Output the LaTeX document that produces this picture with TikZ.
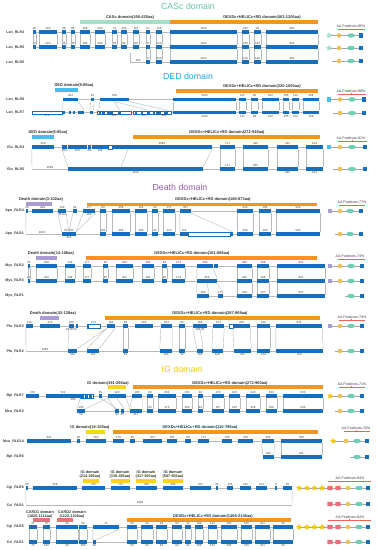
\documentclass[tikz,border=0pt]{standalone}
\usepackage{fontspec}
\setmainfont{Liberation Sans}
\usetikzlibrary{shapes.geometric,backgrounds}
\definecolor{exblue}{RGB}{22,110,190}
\definecolor{dorange}{RGB}{247,148,30}
\definecolor{cascT}{RGB}{100,195,160}
\definecolor{cascB}{RGB}{165,222,198}
\definecolor{dedT}{RGB}{30,165,230}
\definecolor{dedB}{RGB}{70,190,238}
\definecolor{deathT}{RGB}{150,90,175}
\definecolor{deathB}{RGB}{170,155,210}
\definecolor{igT}{RGB}{245,200,0}
\definecolor{igB}{RGB}{250,215,20}
\definecolor{cardB}{RGB}{235,110,125}
\definecolor{icyel}{RGB}{235,195,90}
\definecolor{icteal}{RGB}{110,205,180}
\definecolor{gline}{RGB}{185,185,185}
\definecolor{brk}{RGB}{235,100,80}
\definecolor{numc}{RGB}{60,60,60}
\tikzset{
 exon/.style={rectangle, fill=exblue, inner sep=0pt, minimum height=3.9pt},
 hollow/.style={rectangle, draw=exblue, fill=white, line width=0.4pt, inner sep=0pt, minimum height=3.4pt},
 num/.style={font=\fontsize{2.9}{3}\selectfont, text=numc, inner sep=0.35pt},
 rlab/.style={font=\fontsize{3.6}{4}\selectfont\bfseries, text=numc, anchor=east, inner sep=0pt},
 dlab/.style={font=\fontsize{4}{4.6}\selectfont\bfseries, text=black!80, inner sep=0pt},
 dbar/.style={rectangle, inner sep=0pt, minimum height=3.1pt},
 title/.style={font=\fontsize{8.8}{10}\selectfont, inner sep=0pt},
 intron/.style={draw=gline, line width=0.45pt},
 cn/.style={draw=gline, line width=0.4pt},
 icl/.style={draw=gray!70, line width=0.45pt},
 yc/.style={circle, fill=icyel, minimum size=4.6pt, inner sep=0pt},
 te/.style={ellipse, fill=icteal, minimum width=7.6pt, minimum height=4.4pt, inner sep=0pt},
 bs/.style={rectangle, fill=exblue, minimum size=4.6pt, inner sep=0pt},
 ps/.style={rectangle, fill=deathB, minimum size=4.6pt, inner sep=0pt},
 cs/.style={rectangle, fill=dedB, minimum size=4.6pt, inner sep=0pt},
 pk/.style={rectangle, rounded corners=0.6pt, fill=cardB, minimum width=5.4pt, minimum height=4.4pt, inner sep=0pt},
 stg/.style={star, star points=5, star point ratio=2.3, fill=igT, minimum size=6.6pt, inner sep=0pt},
 stm/.style={star, star points=5, star point ratio=2.3, fill=cascB, minimum size=6.6pt, inner sep=0pt},
 aal/.style={font=\fontsize{3.6}{4}\selectfont, text=numc, inner sep=0pt},
 brkl/.style={draw=brk, line width=0.45pt},
}
\newcommand\exrow[3]{\foreach \i/\a/\b/\l/\p in {#3}{%
 \node[exon, minimum width={(\b-\a)*1pt}] (#1\i) at ({(\a+\b)/2},#2) {};
 \if\p a\node[num, anchor=south] at (#1\i.north) {\l};\else\node[num, anchor=north] at (#1\i.south) {\l};\fi}}
\newcommand\hol[6]{\node[hollow, minimum width={(#3-#2)*1pt}] (#1) at ({(#2+#3)/2},#4) {};
 \if#6a\node[num,anchor=south] at (#1.north) {#5};\else\node[num,anchor=north] at (#1.south) {#5};\fi}
\newcommand\conn[3]{\foreach \i in {#3}{\draw[cn] (#1\i.south west) -- (#2\i.north west) (#1\i.south east) -- (#2\i.north east);}}
\newcommand\intr[2]{\begin{pgfonlayer}{background}\draw[intron] (#1) -- (#2);\end{pgfonlayer}}
\newcommand\icons[4]{\foreach \x/\s [count=\k] in {#3}{\node[\s] (#1\k) at (\x,#2) {};}
 \begin{pgfonlayer}{background}\draw[icl] (#11.center) -- (#1#4.center);\end{pgfonlayer}}
\newcommand\aap[6]{\node[aal] (#1) at (#2,#3) {AA Positives-#4\%};
 \draw[brkl] (#5,#3+3.8) -- (#5,#3+2.8) -- (#6,#3+2.8) -- (#6,#3+3.8) ({(#5+#6)/2},#3+2.8) -- ({(#5+#6)/2},#3+2);}
\newcommand\dbar[5]{\node[dbar, fill=#5, minimum width={(#3-#2)*1pt}] (#1) at ({(#2+#3)/2},#4) {};}
\begin{document}
\begin{tikzpicture}[x=1pt,y=-1pt]
\useasboundingbox (0,0) rectangle (377,550);
\begin{pgfonlayer}{background}\fill[white] (0,0) rectangle (377,550);\end{pgfonlayer}
% ================= CASc
\node[title, text=cascT] (t1) at (188,6.5) {CASc domain};
\node[dlab] (dl1a) at (130,17.3) {CASc domain(166-420aa)};
\dbar{b1a}{80}{170}{22}{cascB}
\node[dlab] (dl1b) at (262,17.3) {DEXDc+HELICc+RD domain(463-1206aa)};
\dbar{b1b}{170}{318}{22}{dorange}
\node[rlab] (rl1) at (24.5,32) {Lan\_RLR4};
\node[rlab] (rl2) at (24.5,47) {Lan\_RLR6};
\node[rlab] (rl3) at (24.5,62) {Lan\_RLR5};
\exrow{a}{32}{1/33/36/40/a,2/39/57/320/a,3/62/66/38/a,4/71/75/80/a,5/80/90/106/a,6/95/105/220/a,7/112/117/78/a,8/121/127/120/a,9/133/139/110/a,10/146/150/87/a,11/156/162/120/a,12/170/237/1120/a,13/242/249/120/a,14/254/261/111/a,15/266/318/863/a}
\intr{a1.west}{a15.east}
\exrow{b}{47}{1/33/36/36/a,2/39/57/320/a,3/62/66/36/a,4/71/75/80/a,5/80/90/106/a,6/95/105/220/a,7/112/117/78/a,8/121/127/96/a,9/133/139/110/a,10/146/150/87/a,11/156/162/123/a,12/170/237/1142/a,13/242/249/120/a,14/254/261/120/a,15/266/318/854/a}
\intr{b1.west}{b15.east}
\conn{a}{b}{1,...,15}
\exrow{c}{62}{10/146/150/87/a,11/156/162/123/a,12/170/237/1126/a,13/242/249/110/a,14/254/261/120/a,15/266/318/854/a}
\coordinate (c0) at (130,62);
\coordinate (c0t) at (130,53);
\intr{c0}{c15.east}
\draw[cn] (c0t) -- (c0);
\node[num,anchor=south] (c0l) at (138,61.6) {163};
\conn{b}{c}{10,...,15}
\aap{aa1}{351}{26.5}{85}{338}{364}
\icons{ica}{35.5}{329/stm,339/yc,351/te,361/bs}{4}
\icons{icb}{48}{329/stm,339/yc,351/te,361/bs}{4}
\icons{icc}{61}{332/coordinate,339/yc,351/te,361/bs}{4}
% ================= DED
\node[title, text=dedT] (t2) at (188,76) {DED domain};
\node[dlab] (dl2a) at (74,85) {DED domain(9-89aa)};
\dbar{b2a}{55}{78}{90}{dedB}
\node[dlab] (dl2b) at (262,86.3) {DEXDc+HELICc+RD domain(320-1005aa)};
\dbar{b2b}{176}{318}{91}{dorange}
\node[rlab] (rl4) at (24.5,99.5) {Lan\_RLR8};
\node[rlab] (rl5) at (24.5,112.5) {Lan\_RLR7};
\exrow{d}{99.5}{1/63/78/291/a,2/91/94/45/a,3/100/129/520/a,4/173/236/1135/a,5/239/246/117/a,6/251/258/98/a,7/262/279/182/a,8/283/289/105/a,9/292/299/114/a,10/303/319/206/a}
\intr{d1.west}{d10.east}
\hol{eh1}{32}{62}{112.5}{374}{b}
\hol{eh2}{97}{131}{112.5}{282}{b}
\hol{eh3}{133}{156}{112.5}{207}{b}
\hol{eh4}{157}{171}{112.5}{202}{b}
\exrow{e}{112.5}{1/63/65//a,2/69/71//a,3/73/75//a,4/78/84//a,5/90/93//a,6/99/101//a,7/102/105//a,8/107/113//a,9/118/121//a,10/135/137//a,11/141/143//a,12/147/150//a,13/153/155//a,14/158/161//a,15/164/168//a}
\exrow{e}{112.5}{16/173/236/1136/b,17/239/246/117/b,18/251/258/98/b,19/262/279/182/b,20/283/289/105/b,21/292/299/114/b,22/303/319/206/b}
\intr{eh1.west}{e22.east}
\foreach \i/\j in {4/16,5/17,6/18,7/19,8/20,9/21,10/22}{\draw[cn] (d\i.south west) -- (e\j.north west) (d\i.south east) -- (e\j.north east);}
\draw[cn] (d1.south west) -- (e1.north west) (d1.south east) -- (e4.north east) (d2.south west) -- (e5.north west) (d2.south east) -- (e5.north east) (d3.south west) -- (e6.north west) (d3.south) -- (e9.north) (d3.south) -- (e12.north) (d3.south east) -- (e15.north east);
\aap{aa2}{351}{91}{98}{338}{365}
\icons{icd}{99.5}{329/cs,340/yc,352/te,364/bs}{4}
\icons{ice}{113}{333/coordinate,340/yc,352/te,364/bs}{4}
% Elu
\node[dlab] (dl3a) at (48,132) {DED domain(6-85aa)};
\dbar{b3a}{32}{54}{137}{dedB}
\node[dlab] (dl3b) at (227,132) {DEXDc+HELICc+RD domain(272-948aa)};
\dbar{b3b}{133}{320}{137}{dorange}
\node[rlab] (rl6) at (24.5,147) {Elu\_RLR3};
\node[rlab] (rl7) at (24.5,169) {Elu\_RLR5};
\hol{fh}{108}{112}{147}{}{a}
\exrow{f}{147}{1/32/54/259/a,2/62/67/302/b,3/67.6/87/228/b,4/88/91/59/b,5/92/108/138/b,6/112/212/1083/a,7/220/235/171/a,8/243/268/290/a,9/277/298/232/a,10/306/323/194/a}
\intr{f1.west}{f10.east}
\coordinate (g0) at (32,169);
\exrow{g}{169}{1/68/203/1519/b,7/220/235/171/a,8/243/268/305/a,9/277/298/235/b,10/306/323/194/b}
\intr{g0}{g10.east}
\node[num,anchor=south] (g0l) at (50,168.6) {1509};
\conn{f}{g}{7,8,9,10}
\coordinate (f6a) at (128,148.8);
\coordinate (g1a) at (121,167.2);
\draw[cn] (f1.south west) -- (g0) (f2.south west) -- (g1.north west) (f6a) -- (g1a) (f6.south east) -- (g1.north east);
\aap{aa3}{351}{138}{81}{338}{366}
\icons{icf}{147}{329/cs,340/yc,352/te,365/bs}{4}
\icons{icg}{169}{333/coordinate,340/yc,352/te,365/bs}{4}
% ================= Death
\node[title, text=deathT] (t3) at (180,187.5) {Death domain};
\node[dlab] (dl4a) at (41,199) {Death domain(3-102aa)};
\dbar{b4a}{26}{52}{204}{deathB}
\node[dlab] (dl4b) at (213,199) {DEXDc+HELICc+RD domain(186-873aa)};
\dbar{b4b}{87}{317}{204.5}{dorange}
\node[rlab] (rl8) at (24,211) {Apu\_RLR4};
\node[rlab] (rl9) at (24,234) {Apu\_RLR1};
\exrow{h}{211}{1/26/28/28/a,2/32/53/288/a,3/58/66/120/a,4/73/77/84/a,5/83/95/177/a,6/100/106/83/a,7/112/130/258/a,8/135/147/163/a,9/152/158/93/a,10/163/175/173/a,11/180/191/351/a,12/237/253/240/a,13/259/271/168/a,14/276/320/528/a}
\node[num,anchor=north] (h3l) at (h3.south) {36\,\,84};
\node[num,anchor=north] (h5l) at (h5.south) {180};
\intr{h1.west}{h14.east}
\coordinate (i0) at (26,234);
\hol{hI}{188}{230}{234}{}{a}
\exrow{i}{234}{3/62/76/214/b,6/100/106/201/a,7/112/130/258/a,8/135/147/163/a,9/152/158/93/a,10/163/175/173/a,11/180/188/724/a,12/237/253/240/a,13/259/271/168/a,14/276/320/528/a,15/230/232.5//a}
\node[num,anchor=south] (i3l) at (i3.north) {56\,\,201};
\intr{i0}{i14.east}
\node[num,anchor=south] (i0l) at (42,233.6) {2210};
\conn{h}{i}{6,7,8,9,10,12,13,14}
\draw[cn] (h1.south west) -- (i0) (h3.south west) -- (i3.north west) (h3.south east) -- (i3.north) (h4.south west) -- (i3.north) (h5.south west) -- (i3.north east) (h5.south east) -- (i3.north east) (h11.south west) -- (i11.north west) (h11.south east) -- (i15.north east);
\aap{aa4}{352}{202.5}{77}{339}{364}
\icons{ich}{211}{330/ps,340/yc,350/te,361/bs}{4}
\icons{ici}{234}{335/coordinate,340/yc,350/te,361/bs}{4}
% Mys
\node[dlab] (dl5a) at (51,253.5) {Death domain(14-108aa)};
\dbar{b5a}{36}{57}{258}{deathB}
\node[dlab] (dl5b) at (192,253.5) {DEXDc+HELICc+RD domain(161-886aa)};
\dbar{b5b}{86}{317}{258}{dorange}
\node[rlab] (rl10) at (24,266) {Mys\_RLR2};
\node[rlab] (rl11) at (24,281) {Mys\_RLR3};
\node[rlab] (rl12) at (24,296) {Mys\_RLR1};
\exrow{j}{266}{1/28/29.6/25/a,2/36/57/288/a,3/65/75/138/a,4/83/91/177/a,5/103/108/83/a,6/116/133/249/a,7/142/154/163/a,8/162/167/93/a,9/172/185/173/a,10/197/213/280/a,11/237/252/240/a,12/257/269/168/a,13/277/325/641/a,14/214/218//a}
\intr{j1.west}{j13.east}
\exrow{k}{281}{1/28/29.6/21/a,2/36/57/291/a,3/65/75/138/a,4/83/91/177/a,5/103/108/83/a,6/116/133/252/a,7/142/154/163/a,8/162/167/93/a,9/172/185/173/a,10/197/217/269/a,11/237/252/240/a,12/257/269/168/a,13/277/325/641/a}
\intr{k1.west}{k13.east}
\conn{j}{k}{1,...,13}
\exrow{l}{296}{10/197/209/100/a,14/218/223/177/a,11/237/252/228/a,12/257/269/157/a,13/277/325/607/a}
\intr{l10.west}{l13.east}
\conn{k}{l}{11,12,13}
\draw[cn] (k10.south west) -- (l10.north west) (k10.south) -- (l10.north east) (k10.south east) -- (l14.north east);
\aap{aa5}{350}{256.5}{74}{338}{364}
\icons{icj}{266}{330/ps,340/yc,351/te,362/bs}{4}
\icons{ick}{281}{330/ps,340/yc,351/te,362/bs}{4}
\icons{icl}{296}{345/coordinate,351/te,362/bs}{3}
% Pfu
\node[dlab] (dl6a) at (53,313) {Death domain(43-129aa)};
\dbar{b6a}{40}{59}{318}{deathB}
\node[dlab] (dl6b) at (210,313) {DEXDc+HELICc+RD domain(287-968aa)};
\dbar{b6b}{105}{320}{318}{dorange}
\node[rlab] (rl13) at (24,326) {Pfu\_RLR3};
\node[rlab] (rl14) at (24,351) {Pfu\_RLR2};
\hol{mh1}{87}{100}{326}{174}{a}
\hol{mh2}{229}{233}{326}{}{a}
\exrow{m}{326}{1/26/33/115/a,2/40/60/276/a,3/69/74/180/a,15/75.5/78//a,4/87/89//a,5/107/115/182/a,6/123/128/83/a,7/135/153/255/a,8/161/172/163/a,9/179/185/95/a,10/193/207/168/a,11/213/224/141/a,12/233/250/288/a,13/257/270/168/a,14/276/322/611/a}
\node[num,anchor=north] (m3l) at (m3.south) {65\,30\,54};
\node[num,anchor=north] (m10l) at (m10.south) {104\,\,64};
\intr{m1.west}{m14.east}
\coordinate (n0) at (26,351);
\exrow{n}{351}{3/68/77/106/b,5/87/99/162/b,6/123/128/83/b,8/160/172/163/b,9/179/185/95/b,10/197/203/104/b,11/212/223/168/b,12/234/251/225/b,13/257/270/168/b,14/276/323/526/b}
\intr{n0}{n14.east}
\node[num,anchor=south] (n0l) at (45,350.6) {2282};
\conn{m}{n}{6,8,9,11,12,13,14}
\draw[cn] (m1.south west) -- (n0) (m3.south west) -- (n3.north west) (m5.south west) -- (n3.north east) (m5.south west) -- (n5.north west) (m5.south east) -- (n5.north east) (m10.south west) -- (n10.north west) (m10.south) -- (n10.north east);
\aap{aa6}{352}{317}{74}{339}{364}
\icons{icm}{326}{330/ps,340/yc,351/te,362/bs}{4}
\icons{icn}{351}{335/coordinate,340/yc,351/te,362/bs}{4}
% ================= IG
\node[title, text=igT] (t4) at (182,369.5) {IG domain};
\node[dlab] (dl7a) at (108,383) {IG domain(191-268aa)};
\dbar{b7a}{108}{126}{387}{igB}
\node[dlab] (dl7b) at (230,383) {DEXDc+HELICc+RD domain(272-960aa)};
\dbar{b7b}{133}{323}{387}{dorange}
\node[rlab] (rl15) at (24,396) {Bpl\_RLR7};
\node[rlab] (rl16) at (24,411) {Mcu\_RLR2};
\hol{oh}{80.5}{93}{396}{}{a}
\exrow{o}{396}{1/26/39/378/a,2/46/80/722/a,3/81/83.5//a,4/85/87.5//a,5/89/91.5//a,6/99/102/45/a,7/108/126/220/a,8/132/142/106/a,9/147/153/83/a,10/158/176/264/a,11/182/192/163/a,12/198/203/93/a,13/212/224/173/a,14/229/240/140/a,15/246/260/228/a,16/266/277/168/a,17/283/323/533/a}
\node[num,anchor=north] (o2l) at (73,397.8) {460};
\intr{o1.west}{o17.east}
\exrow{p}{411}{2/77/85/130/a,5/115/119/59/b,6/121/124/45/b,8/130/142/217/b,9/147/153/83/a,10/158/176/175/a,11/182/192/163/a,12/198/203/93/a,13/212/224/167/a,14/229/240/145/a,15/246/260/228/a,16/266/277/168/a,17/283/323/533/a}
\node[num,anchor=north] (p2l) at (p2.south) {96};
\intr{p2.west}{p17.east}
\conn{o}{p}{9,...,17}
\draw[cn] (o8.south west) -- (p8.north west) (o8.south east) -- (p8.north east);
\draw[cn] (o2.south east) -- (p2.north west) (o7.south west) -- (p2.north east) (o7.south west) -- (p5.north west) (o7.south) -- (p6.north east) (o7.south east) -- (p8.north west) (o6.south) -- (p5.north);
\aap{aa7}{352}{384}{71}{339}{364}
\icons{ico}{396}{330/stg,340/yc,351/te,362/bs}{4}
\icons{icp}{411}{335/coordinate,340/yc,351/te,362/bs}{4}
% Mcu14
\node[dlab] (dl8a) at (90,427.5) {IG domain(16-108aa)};
\dbar{b8a}{86}{105}{432}{igB}
\node[dlab] (dl8b) at (200,427.5) {DEXDc+HELICc+RD domain(110-799aa)};
\dbar{b8b}{113}{318}{432}{dorange}
\node[rlab] (rl17) at (24,441) {Mcu\_RLR14};
\node[rlab] (rl18) at (24,457) {Bpl\_RLR6};
\exrow{q}{441}{1/27/71/324/a,2/77/80/30/a,3/86/106/262/a,4/113/124/175/a,5/130/135/83/a,6/143/162/267/a,7/167/177/163/a,8/185/191/93/a,9/198/209/173/a,10/222/232/140/a,11/238/253/228/a,12/262/274/168/a,13/281/322/500/a}
\intr{q1.west}{q13.east}
\exrow{r}{457}{12/263/274/108/a,13/281/322/611/a}
\intr{r12.west}{r13.east}
\conn{q}{r}{12,13}
\aap{aa8}{356}{428}{76}{344}{369}
\icons{icq}{441}{333/stg,346/yc,357/te,367/bs}{4}
\icons{icr}{457}{350/coordinate,357/te,367/bs}{3}
% Cgi 1
\node[dlab, align=center, font=\fontsize{3.8}{4.5}\selectfont\bfseries] (dl9a) at (90,474.5) {IG domain\\(214-306aa)};
\node[dlab, align=center, font=\fontsize{3.8}{4.5}\selectfont\bfseries] (dl9b) at (120,474.5) {IG domain\\(316-405aa)};
\node[dlab, align=center, font=\fontsize{3.8}{4.5}\selectfont\bfseries] (dl9c) at (146,474.5) {IG domain\\(417-503aa)};
\node[dlab, align=center, font=\fontsize{3.8}{4.5}\selectfont\bfseries] (dl9d) at (173,474.5) {IG domain\\(507-603aa)};
\dbar{b9a}{83}{99}{481}{igB}
\dbar{b9b}{111}{130}{481}{igB}
\dbar{b9c}{136}{156}{481}{igB}
\dbar{b9d}{163}{183}{481}{igB}
\node[rlab] (rl19) at (24,488) {Cgi\_RLR6};
\node[rlab] (rl20) at (24,505) {Cvi\_RLR1};
\exrow{s}{488}{1/26/28/20/a,2/33/77/558/a,3/82/105/315/a,4/111/130/273/a,5/136/157/338/a,6/163/183/289/a,7/190/211/255/a,8/216/218/45/a,9/227/233/125/a,10/240/251/215/a,11/256/267/214/a,12/275/277/8/a,13/283/292/90/a}
\intr{s1.west}{s13.east}
\coordinate (t0) at (26,505);
\coordinate (t1) at (292,505);
\intr{t0}{t1}
\node[num,anchor=south] (t0l) at (140,504.4) {4230};
\draw[cn] (s1.south west) -- (t0) (s13.south east) -- (t1);
\aap{aa9}{350}{478.5}{84}{328}{370}
\icons{ics}{488}{299/stg,307/stg,314.5/stg,322/stg,330/pk,338/pk,348/yc,359/te,368/bs}{9}
\icons{ict}{504}{330/pk,338/pk,348/yc,359/te,368/bs}{5}
% Cgi 2
\node[dlab, align=center, font=\fontsize{3.8}{4.5}\selectfont\bfseries] (dl10a) at (40,514.3) {CARD1 domain\\(1026-1114aa)};
\dbar{b10a}{33}{50}{520}{cardB}
\node[dlab, align=center, font=\fontsize{3.8}{4.5}\selectfont\bfseries] (dl10b) at (72,514.3) {CARD2 domain\\(1122-1206aa)};
\dbar{b10b}{57}{73}{520}{cardB}
\node[dlab] (dl10c) at (213,516) {DEXDc+HELICc+RD domain(1468-2146aa)};
\dbar{b10c}{127}{291}{520}{dorange}
\node[rlab] (rl21) at (24,527) {Cgi\_RLR6};
\node[rlab] (rl22) at (24,542) {Cvi\_RLR1};
\exrow{u}{527}{1/29/37/37/a,2/43/50/70/a,3/56/78/58/a,4/79/87/50/a,5/93/119/71/a,6/127/137/65/a,7/141/153/93/a,8/156/167/93/a,9/172/182/93/a,10/185/191/41/a,11/195/203/109/a,12/208/217/113/a,13/221/237/205/a,14/241/252/165/a,15/255/270/231/a,16/273/293/90/a}
\intr{u1.west}{u16.east}
\exrow{v}{542}{1/29/37/73/b,2/43/50/130/b,3/56/78/58/b,4/79/87/185/b,5/93/96/40/b,6/127/137/65/b,7/141/153/93/b,8/156/167/93/b,9/172/182/93/b,10/185/191/41/b,11/195/203/109/b,12/208/217/113/b,13/221/237/205/b,14/241/252/165/b,15/255/270/231/b,16/273/293/90/b}
\intr{v1.west}{v16.east}
\conn{u}{v}{1,2,3,4,5,6,7,8,9,10,11,12,13,14,15,16}
\aap{aa10}{350}{517}{84}{328}{370}
\icons{icu}{527}{299/stg,307/stg,314.5/stg,322/stg,330/pk,338/pk,348/yc,359/te,368/bs}{9}
\icons{icv}{542}{330/pk,338/pk,348/yc,359/te,368/bs}{5}
\end{tikzpicture}
\end{document}
